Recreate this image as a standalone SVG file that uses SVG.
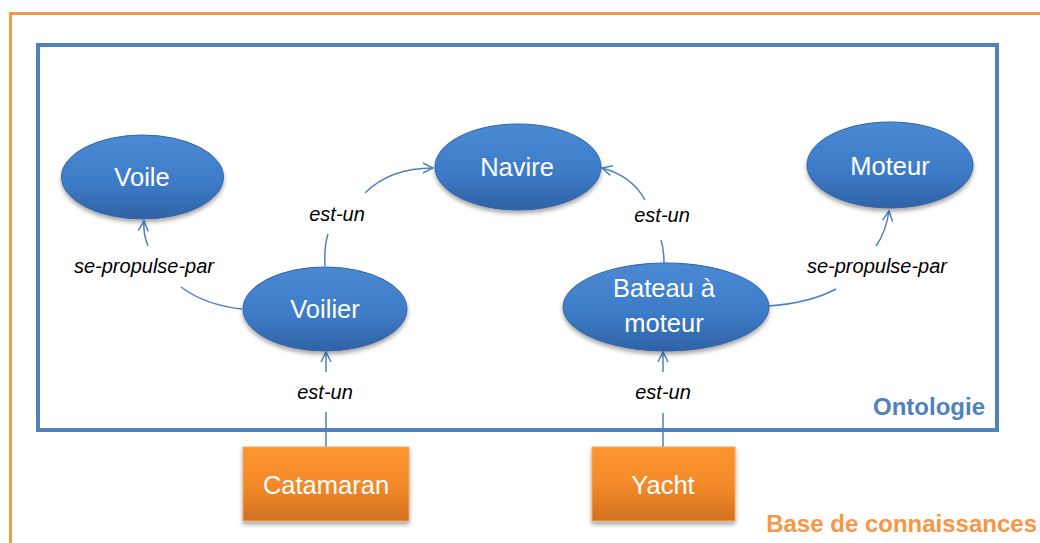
<svg xmlns="http://www.w3.org/2000/svg" width="1040" height="543" viewBox="0 0 1040 543">
<style>
.lbl{font-family:"Liberation Sans",Arial,sans-serif;font-style:italic;font-size:20px;fill:#000;text-anchor:middle}
.ntxt{font-family:"Liberation Sans",Arial,sans-serif;font-size:25.5px;fill:#fff;text-anchor:middle}
.ell{fill:url(#gBlue);stroke:#3465A4;stroke-width:1;filter:url(#sh)}
.box{fill:url(#gOr);stroke:#F2A863;stroke-width:1;filter:url(#sh)}
.con{fill:none;stroke:#4F81BD;stroke-width:1.5}
.arr{fill:none;stroke:#4F81BD;stroke-width:1.5;marker-end:url(#ah)}
</style>
<defs>
<linearGradient id="gBlue" x1="0" y1="0" x2="0" y2="1">
<stop offset="0" stop-color="#4A89D3"/>
<stop offset="0.55" stop-color="#3E7CC8"/>
<stop offset="1" stop-color="#2F62A6"/>
</linearGradient>
<linearGradient id="gOr" x1="0" y1="0" x2="0" y2="1">
<stop offset="0" stop-color="#FD952F"/>
<stop offset="0.5" stop-color="#F48A2A"/>
<stop offset="1" stop-color="#D2701F"/>
</linearGradient>
<filter id="sh" x="-20%" y="-20%" width="140%" height="150%">
<feDropShadow dx="0" dy="3" stdDeviation="2" flood-color="#000" flood-opacity="0.35"/>
</filter>
<marker id="ah" viewBox="0 0 12 12" refX="11" refY="6" markerWidth="12" markerHeight="12" markerUnits="userSpaceOnUse" orient="auto">
<path d="M1,1 L11,6 L1,11" fill="none" stroke="#4F81BD" stroke-width="1.5"/>
</marker>
</defs>
<rect width="1040" height="543" fill="#fff"/>
<g id="frame-kb">
<path d="M10.5,560 V13.5 H1060" fill="none" stroke="#F79646" stroke-width="3"/>
<text x="1037" y="532" font-family="Liberation Sans,Arial,sans-serif" font-weight="bold" font-size="24" fill="#F79646" text-anchor="end">Base de connaissances</text>
</g>
<g id="frame-ontologie">
<rect x="38" y="45" width="959" height="385" fill="none" stroke="#4F81BD" stroke-width="4"/>
<text x="985" y="415" font-family="Liberation Sans,Arial,sans-serif" font-weight="bold" font-size="24" fill="#4F81BD" text-anchor="end">Ontologie</text>
</g>
<g id="connectors">
<path class="con" d="M242,309 Q205,305 181,287"/>
<path class="arr" d="M148,246 Q143,234 144,221"/>
<text class="lbl" x="144" y="273">se-propulse-par</text>
<path class="con" d="M325,266 Q324,246 328,234"/>
<path class="arr" d="M365,193 Q390,168 433,168"/>
<text class="lbl" x="337" y="221">est-un</text>
<path class="con" d="M664,263 Q664,250 661,240"/>
<path class="arr" d="M645,200 Q632,176 602,168"/>
<text class="lbl" x="662" y="222">est-un</text>
<path class="con" d="M768,306 Q810,303 836,289"/>
<path class="arr" d="M876,246 Q886,232 889,211"/>
<text class="lbl" x="877" y="273">se-propulse-par</text>
<path class="con" d="M326,447 V412"/>
<path class="arr" d="M326,372 V352"/>
<text class="lbl" x="325" y="399">est-un</text>
<path class="con" d="M663,447 V413"/>
<path class="arr" d="M663,372 V352"/>
<text class="lbl" x="663" y="399">est-un</text>
</g>
<g id="node-voile">
<ellipse class="ell" cx="142.5" cy="177" rx="81" ry="42"/>
<text class="ntxt" x="142" y="186">Voile</text>
</g>
<g id="node-navire">
<ellipse class="ell" cx="518" cy="167" rx="83" ry="43"/>
<text class="ntxt" x="517" y="176">Navire</text>
</g>
<g id="node-moteur">
<ellipse class="ell" cx="890" cy="165" rx="83" ry="43"/>
<text class="ntxt" x="890" y="175">Moteur</text>
</g>
<g id="node-voilier">
<ellipse class="ell" cx="325" cy="309" rx="82" ry="42"/>
<text class="ntxt" x="325" y="318">Voilier</text>
</g>
<g id="node-bateau">
<ellipse class="ell" cx="666" cy="307" rx="103" ry="44"/>
<text class="ntxt" x="664" y="297">Bateau à</text>
<text class="ntxt" x="664" y="332">moteur</text>
</g>
<g id="node-catamaran">
<rect class="box" x="243" y="447" width="166" height="74"/>
<text class="ntxt" x="326" y="494">Catamaran</text>
</g>
<g id="node-yacht">
<rect class="box" x="592" y="447" width="143" height="74"/>
<text class="ntxt" x="663" y="494">Yacht</text>
</g>
</svg>
